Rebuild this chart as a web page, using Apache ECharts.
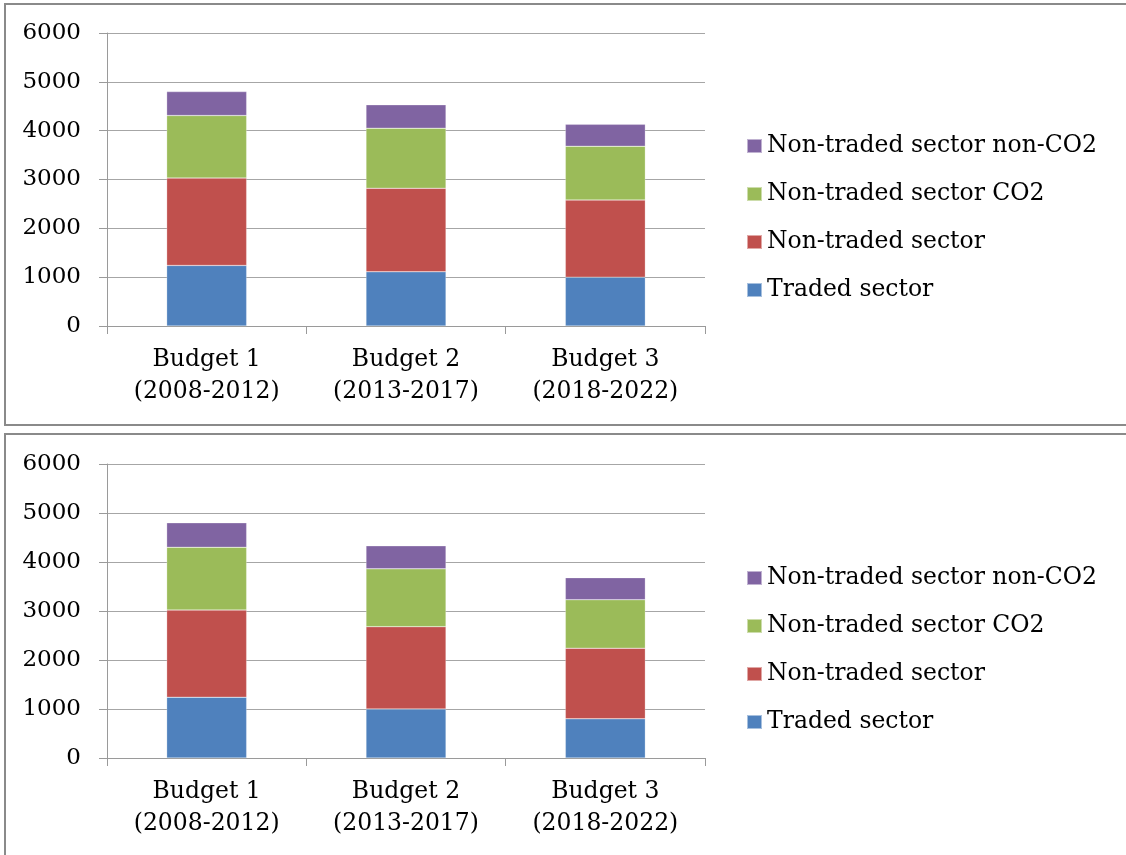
<!DOCTYPE html>
<html>
<head>
<meta charset="utf-8">
<style>
body { margin: 0; width: 1126px; height: 855px; overflow: hidden; background: #fff; }
.frame { position: absolute; border: 2px solid #8a8a8a; box-sizing: border-box; }
#frame1 { left: 4px; top: 3px; width: 1140px; height: 423px; }
#frame2 { left: 4px; top: 433px; width: 1140px; height: 440px; }
#chart1 { position: absolute; left: 0; top: 0; width: 1126px; height: 430px; }
#chart2 { position: absolute; left: 0; top: 430px; width: 1126px; height: 425px; }
</style>
<script src="https://cdn.jsdelivr.net/npm/echarts@6/dist/echarts.min.js"></script>
</head>
<body>
<div class="frame" id="frame1"></div>
<div class="frame" id="frame2"></div>
<div id="chart1"></div>
<div id="chart2"></div>
<script>
// categories
var budgets = ["Budget 1\n(2008-2012)", "Budget 2\n(2013-2017)", "Budget 3\n(2018-2022)"];
var seriesNames = ["Traded sector", "Non-traded sector", "Non-traded sector CO2", "Non-traded sector non-CO2"];
var colors = ["#4f81bd", "#c0504d", "#9bbb59", "#8064a2"];
var yTicks = [0, 1000, 2000, 3000, 4000, 5000, 6000];

// chart 1 values
var traded1 = [1240, 1110, 1000];
var nonTraded1 = [1790, 1710, 1580];
var nonTradedCO2_1 = [1280, 1230, 1100];
var nonTradedNonCO2_1 = [490, 480, 450];

// chart 2 values
var traded2 = [1240, 1000, 800];
var nonTraded2 = [1780, 1680, 1440];
var nonTradedCO2_2 = [1280, 1180, 990];
var nonTradedNonCO2_2 = [500, 470, 450];

var FONT = "DejaVu Serif";

function buildOption(data, gridTop, gridHeight, legendTop) {
  return {
    animation: false,
    color: colors,
    grid: { left: 107, top: gridTop, width: 598, height: gridHeight },
    legend: {
      orient: "vertical",
      left: 746,
      top: legendTop,
      padding: 0,
      icon: "rect",
      itemWidth: 15,
      itemHeight: 14,
      itemGap: 22,
      textStyle: { fontFamily: FONT, fontSize: 23.5, color: "#000", lineHeight: 26 },
      data: seriesNames.slice().reverse()
    },
    xAxis: {
      type: "category",
      data: budgets,
      axisLine: { lineStyle: { color: "#9a9a9a", width: 1 } },
      axisTick: { show: true, length: 8, lineStyle: { color: "#9a9a9a" } },
      axisLabel: { fontFamily: FONT, fontSize: 23.5, color: "#000", lineHeight: 32, margin: 18 }
    },
    yAxis: {
      type: "value",
      min: yTicks[0],
      max: yTicks[yTicks.length - 1],
      interval: 1000,
      axisLine: { show: true, lineStyle: { color: "#9a9a9a", width: 1 } },
      axisTick: { show: true, length: 8, lineStyle: { color: "#9a9a9a" } },
      splitLine: { lineStyle: { color: "#a6a6a6", width: 1 } },
      axisLabel: { fontFamily: FONT, fontSize: 23, color: "#000", margin: 26, formatter: function (v) { return String(v); } }
    },
    series: seriesNames.map(function (name, i) {
      return {
        name: name,
        type: "bar",
        stack: "total",
        barWidth: 80,
        itemStyle: { borderColor: "rgba(255,255,255,0.5)", borderWidth: 0.5 },
        data: data[i]
      };
    })
  };
}

var chart1 = echarts.init(document.getElementById("chart1"));
chart1.setOption(buildOption([traded1, nonTraded1, nonTradedCO2_1, nonTradedNonCO2_1], 33, 293, 133));

var chart2 = echarts.init(document.getElementById("chart2"));
chart2.setOption(buildOption([traded2, nonTraded2, nonTradedCO2_2, nonTradedNonCO2_2], 34, 294, 135));
</script>
</body>
</html>
